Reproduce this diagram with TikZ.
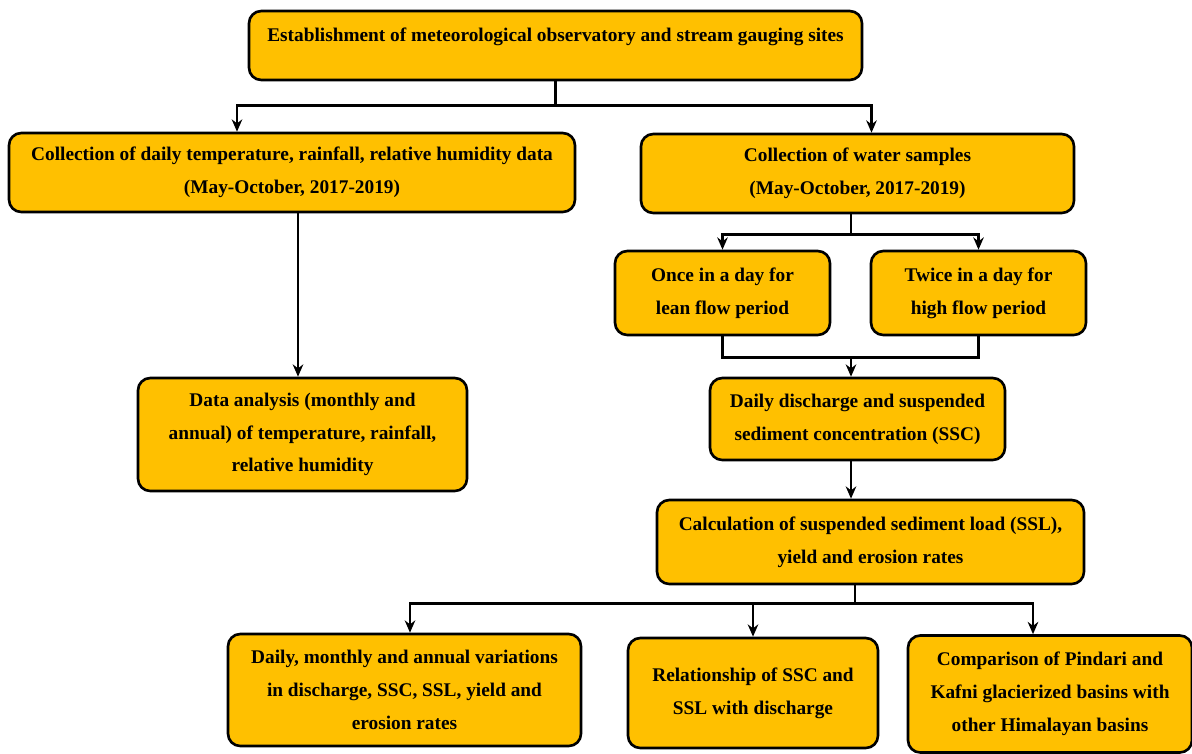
\documentclass[tikz,border=0pt]{standalone}
\usepackage{fontspec}
\setmainfont{Liberation Serif}
\usetikzlibrary{arrows.meta, positioning, calc}
\definecolor{boxgold}{RGB}{255,192,0}

\begin{document}
\begin{tikzpicture}[
    box/.style={rectangle, draw=black, fill=boxgold, line width=1.5pt, rounded corners=7pt, align=center, inner sep=2pt, font=\fontsize{11}{18.7}\selectfont\bfseries},
    link/.style={line width=1.4pt},
    flow/.style={-{Stealth[length=7pt,width=6pt]}, line width=1.4pt}
]
\useasboundingbox (0,0) rectangle (23.84,-15.06);

% Boxes
\node[box, minimum width=12.26cm, minimum height=1.38cm, text depth=0.45cm] (sites) at (11.11,-0.91) {Establishment of meteorological observatory and stream gauging sites};
\node[box, minimum width=11.32cm, minimum height=1.58cm] (climdata) at (5.84,-3.45) {Collection of daily temperature, rainfall, relative humidity data\\(May-October, 2017-2019)};
\node[box, minimum width=8.66cm, minimum height=1.58cm] (samples) at (17.15,-3.47) {Collection of water samples\\(May-October, 2017-2019)};
\node[box, minimum width=4.3cm, minimum height=1.68cm] (lean) at (14.45,-5.86) {Once in a day for\\lean flow period};
\node[box, minimum width=4.3cm, minimum height=1.68cm] (high) at (19.57,-5.86) {Twice in a day for\\high flow period};
\node[box, minimum width=6.58cm, minimum height=2.26cm] (analysis) at (6.05,-8.69) {Data analysis (monthly and\\annual) of temperature, rainfall,\\relative humidity};
\node[box, minimum width=5.9cm, minimum height=1.64cm] (ssc) at (17.15,-8.38) {Daily discharge and suspended\\sediment concentration (SSC)};
\node[box, minimum width=8.54cm, minimum height=1.68cm] (ssl) at (17.41,-10.84) {Calculation of suspended sediment load (SSL),\\yield and erosion rates};
\node[box, minimum width=7.06cm, minimum height=2.24cm] (variation) at (8.09,-13.8) {Daily, monthly and annual variations\\in discharge, SSC, SSL, yield and\\erosion rates};
\node[box, minimum width=5.0cm, minimum height=2.2cm] (relation) at (15.06,-13.86) {Relationship of SSC and\\SSL with discharge};
\node[box, minimum width=5.68cm, minimum height=2.34cm] (compare) at (21.0,-13.88) {Comparison of Pindari and\\Kafni glacierized basins with\\other Himalayan basins};

% Connectors
\draw[link] (sites.south) -- ++(0,-0.48) coordinate (t1);
\draw[flow] (t1) -| ([xshift=-1.1cm]climdata.north);
\draw[flow] (t1) -| ([xshift=0.28cm]samples.north);

\draw[flow] ([xshift=0.12cm]climdata.south) -- ([xshift=0.12cm]climdata.south |- analysis.north);

\draw[link] ([xshift=-0.13cm]samples.south) -- ++(0,-0.4) coordinate (s1);
\draw[flow] (s1) -| (lean.north);
\draw[flow] (s1) -| (high.north);

\draw[link] (lean.south) -- ++(0,-0.42) coordinate (m1) -| (high.south);
\coordinate (sscin) at ([xshift=-0.13cm]ssc.north);
\draw[flow] (sscin |- m1) -- (sscin);
\draw[flow] (sscin |- ssc.south) -- (sscin |- ssl.north);

\draw[link] ([xshift=-0.31cm]ssl.south) -- ++(0,-0.36) coordinate (b1);
\draw[flow] (b1) -| ([xshift=0.11cm]variation.north);
\draw[flow] (b1) -| (relation.north);
\draw[flow] (b1) -| ([xshift=-0.34cm]compare.north);

\end{tikzpicture}
\end{document}
